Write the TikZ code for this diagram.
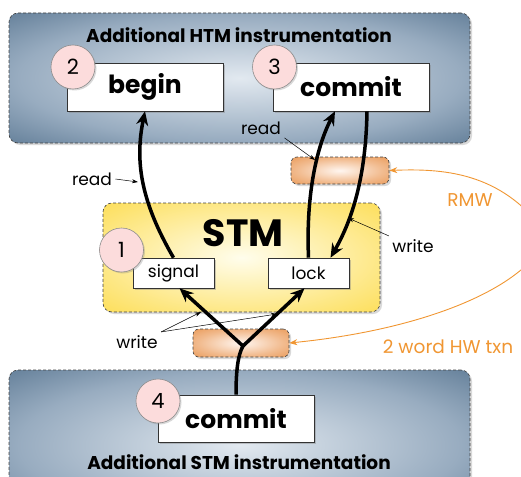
\documentclass[tikz,border=0pt]{standalone}
\usepackage{fontspec}
\setmainfont{Poppins}
\usepackage{xcolor}
\usepackage{tikz}
\usetikzlibrary{arrows.meta, shadows, positioning}

\definecolor{bluecore}{RGB}{226,233,240}
\definecolor{bluemid}{RGB}{152,172,192}
\definecolor{bluedeep}{RGB}{82,112,140}
\definecolor{blueedge}{RGB}{30,66,98}
\definecolor{yelcore}{RGB}{255,253,236}
\definecolor{yeledge}{RGB}{252,212,40}
\definecolor{orgcore}{RGB}{255,246,240}
\definecolor{orgedge}{RGB}{230,138,62}
\definecolor{pinkcore}{RGB}{252,220,220}
\definecolor{pinkedge}{RGB}{228,138,138}
\definecolor{hworange}{RGB}{240,150,50}

\pgfdeclareradialshading{bluefade}{\pgfpoint{0bp}{0bp}}{color(0bp)=(bluecore); color(24bp)=(bluemid); color(40bp)=(bluedeep); color(52bp)=(blueedge); color(80bp)=(blueedge)}
\pgfdeclareradialshading{yellowfade}{\pgfpoint{0bp}{0bp}}{color(0bp)=(yelcore); color(24bp)=(yelcore!50!yeledge); color(48bp)=(yeledge); color(80bp)=(yeledge)}
\pgfdeclareradialshading{orangefade}{\pgfpoint{0bp}{0bp}}{color(0bp)=(orgcore); color(22bp)=(orgcore!45!orgedge); color(44bp)=(orgedge); color(80bp)=(orgedge)}
\pgfdeclareradialshading{pinkfade}{\pgfpoint{0bp}{0bp}}{color(0bp)=(pinkcore); color(28bp)=(pinkcore); color(48bp)=(pinkedge); color(80bp)=(pinkedge)}

\tikzstyle{layer} = [rectangle, rounded corners=9pt, draw=black!75, densely dashed, line width=0.6pt,
                     drop shadow={opacity=0.3, shadow xshift=2pt, shadow yshift=-2pt}]
\tikzstyle{htmbox} = [layer, shading=bluefade]
\tikzstyle{stmbox} = [layer, shading=yellowfade]
\tikzstyle{txnbox} = [layer, rounded corners=6pt, shading=orangefade]
\tikzstyle{fnbox} = [rectangle, draw=black!80, fill=white, line width=0.6pt, inner sep=0pt,
                     drop shadow={opacity=0.4, shadow xshift=2pt, shadow yshift=-2pt}]
\tikzstyle{badge} = [circle, minimum size=44pt, inner sep=0pt, shading=pinkfade, draw=black!45, line width=0.6pt,
                     drop shadow={opacity=0.3, shadow xshift=1.5pt, shadow yshift=-1.5pt}, font=\fontsize{21}{22}\selectfont]
\tikzstyle{arrow} = [line width=3.5pt, -{Stealth[length=14pt,width=12pt]}]
\tikzstyle{note} = [line width=0.5pt, -{Stealth[length=6pt,width=4pt]}]
\tikzstyle{hwlink} = [draw=hworange, line width=0.9pt, -{Stealth[length=8pt,width=6pt]}]

\begin{document}
\begin{tikzpicture}[x=1pt, y=-1pt, every node/.style={font=\fontsize{17}{19}\selectfont}]
\path[use as bounding box, clip] (0,0) rectangle (521,476);

% layers
\node (htmlayer) [htmbox, minimum width=461pt, minimum height=130pt] at (239.5,78) {};
\node (stmbottom) [htmbox, minimum width=461pt, minimum height=150pt] at (239.5,445) {};
\node (stmlayer) [stmbox, minimum width=277pt, minimum height=109pt] at (241.5,257.5) {};

\node (htmtitle) at (239,35) [font=\bfseries\fontsize{18.5}{20}\selectfont] {Additional HTM instrumentation};
\node (stmtitle) at (239,462) [font=\bfseries\fontsize{18.5}{20}\selectfont] {Additional STM instrumentation};
\node (stmname) at (243,233) [font=\bfseries\fontsize{38}{40}\selectfont] {STM};

% functions
\node (begin) [fnbox, minimum width=156pt, minimum height=48pt, font=\bfseries\fontsize{25}{28}\selectfont] at (145,87) {begin};
\node (htmcommit) [fnbox, minimum width=156pt, minimum height=48pt, font=\bfseries\fontsize{25}{28}\selectfont] at (351,87) {commit};
\node (signal) [fnbox, minimum width=81pt, minimum height=30pt] at (173.5,273) {signal};
\node (lock) [fnbox, minimum width=81pt, minimum height=30pt] at (308.5,273) {lock};
\node (stmcommit) [fnbox, minimum width=156pt, minimum height=47pt, font=\bfseries\fontsize{25}{28}\selectfont] at (236,418.5) {commit};

\node (one) [badge] at (121.5,250) {1};
\node (two) [badge] at (73,67) {2};
\node (three) [badge] at (274.5,67) {3};
\node (four) [badge] at (158,401) {4};

% hardware transactions
\node (rmw) [txnbox, minimum width=98pt, minimum height=27pt] at (340,170.5) {};
\node (twoword) [txnbox, minimum width=96pt, minimum height=28pt] at (241,343) {};

\coordinate (fork) at (243,346);
\coordinate (hwsrc) at (548,236);

\draw [arrow] (signal.north) .. controls (140,200) and (135,160) .. (begin.south);
\draw [arrow] (lock.north) .. controls (306,200) and (315,150) .. ([xshift=-16pt]htmcommit.south);
\draw [arrow] ([xshift=16pt]htmcommit.south) .. controls (366,170) and (355,215) .. ([xshift=22pt]lock.north);
\draw [line width=3.5pt] (stmcommit.north) .. controls (236,370) and (238,355) .. (fork);
\draw [arrow] (fork) -- ([xshift=6pt]signal.south);
\draw [arrow] (fork) -- ([xshift=-4pt]lock.south);

% labels
\node (readhtm) at (261,128) {read};
\node (readsig) at (92,179) {read};
\node (writelock) at (413,246) {write};
\node (writefork) at (137,342) {write};
\node (rmwlabel) [text=hworange, font=\fontsize{18.5}{20}\selectfont] at (470,200) {RMW};
\node (txnlabel) [text=hworange, font=\fontsize{18.5}{20}\selectfont] at (448,347) {2 word HW txn};

\coordinate (readtip) at (315,160);
\coordinate (readsigtip) at (138,182);
\coordinate (writetip) at (348,218);
\coordinate (leftwrite) at (201,312);
\coordinate (rightwrite) at (277,314);

\draw [note] (readhtm.south east) -- (readtip);
\draw [note] (readsig.east) -- (readsigtip);
\draw [note] (writelock.north west) -- (writetip);
\draw [note] (writefork.north east) -- (leftwrite);
\draw [note] (writefork.north east) -- (rightwrite);

\draw [hwlink] (hwsrc) .. controls (505,175) and (450,168) .. (rmw.east);
\draw [hwlink] (hwsrc) .. controls (525,290) and (420,330) .. (twoword.east);

\end{tikzpicture}
\end{document}
